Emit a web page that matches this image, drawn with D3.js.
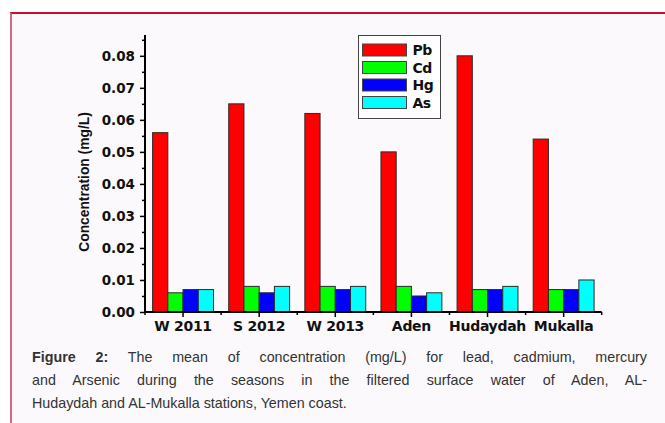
<!DOCTYPE html>
<html>
<head>
<meta charset="utf-8">
<script src="https://cdn.jsdelivr.net/npm/d3@7"></script>
<style>
  body { margin: 0; background: #fff; width: 665px; height: 423px; overflow: hidden; position: relative; }
  #frame {
    position: absolute; left: 10px; top: 12px; width: 700px; height: 460px;
    border-top: 2px solid #c8102e; border-left: 2px solid #d0668a;
    background: #fbf9fb;
  }
  #chart { position: absolute; left: 0; top: 0; }
  .cap {
    position: absolute; left: 32px; width: 615px;
    font-family: "Liberation Sans", Arial, sans-serif; font-size: 14.3px; color: #333;
    white-space: nowrap;
  }
  .cap.just { white-space: normal; text-align: justify; text-align-last: justify; }
</style>
</head>
<body>
<div id="frame"></div>
<svg id="chart" width="665" height="423"></svg>
<div class="cap just" style="top:349px"><b>Figure 2:</b> The mean of concentration (mg/L) for lead, cadmium, mercury</div>
<div class="cap just" style="top:372px">and Arsenic during the seasons in the filtered surface water of Aden, AL-</div>
<div class="cap" style="top:395px">Hudaydah and AL-Mukalla stations, Yemen coast.</div>
<script>
var categories = ["W 2011", "S 2012", "W 2013", "Aden", "Hudaydah", "Mukalla"];
var seriesNames = ["Pb", "Cd", "Hg", "As"];
var pbValues = [0.056, 0.065, 0.062, 0.050, 0.080, 0.054];
var cdValues = [0.006, 0.008, 0.008, 0.008, 0.007, 0.007];
var hgValues = [0.007, 0.006, 0.007, 0.005, 0.007, 0.007];
var asValues = [0.007, 0.008, 0.008, 0.006, 0.008, 0.010];
var yTickValues = [0, 0.01, 0.02, 0.03, 0.04, 0.05, 0.06, 0.07, 0.08];
var yMinorValues = [0.005, 0.015, 0.025, 0.035, 0.045, 0.055, 0.065, 0.075, 0.085];

var colors = ["#ff0000", "#00ff00", "#0000ff", "#00ffff"];
var allValues = [pbValues, cdValues, hgValues, asValues];

var svg = d3.select("#chart");
var plotLeft = 145, plotRight = 601.7, plotTop = 35, plotBottom = 312;
var boldFont = "'DejaVu Sans', sans-serif";

var x0 = d3.scaleBand().domain(categories).range([plotLeft, plotRight]);
var bw = x0.bandwidth();
var x1 = d3.scaleBand().domain(seriesNames).range([bw * 0.1, bw * 0.9]);
var y = d3.scaleLinear().domain([0, 0.0865]).range([plotBottom, plotTop]);
var color = d3.scaleOrdinal().domain(seriesNames).range(colors);

// bars
var rows = [];
categories.forEach(function(c, i) {
    seriesNames.forEach(function(s, j) {
        rows.push({cat: c, name: s, value: allValues[j][i]});
    });
});

svg.append("g").selectAll("rect")
    .data(rows)
    .join("rect")
    .attr("x", d => x0(d.cat) + x1(d.name))
    .attr("y", d => y(d.value))
    .attr("width", x1.bandwidth())
    .attr("height", d => plotBottom - y(d.value))
    .attr("fill", d => color(d.name))
    .attr("stroke", "#2a2a2a")
    .attr("stroke-width", 1);

// y axis
var yAxis = svg.append("g")
    .attr("transform", `translate(${plotLeft},0)`)
    .call(d3.axisLeft(y).tickValues(yTickValues).tickFormat(d3.format(".2f")).tickSize(5).tickPadding(5));
yAxis.select(".domain").attr("d", `M0,${plotBottom}V${plotTop}`).attr("stroke-width", 2);
yAxis.selectAll("text")
    .style("font-family", boldFont).style("font-weight", "bold").style("font-size", "13.5px").attr("fill", "#111");
yAxis.selectAll("line").attr("stroke-width", 1.5);

var yMinor = svg.append("g")
    .attr("transform", `translate(${plotLeft},0)`)
    .call(d3.axisLeft(y).tickValues(yMinorValues).tickFormat("").tickSize(3));
yMinor.select(".domain").remove();
yMinor.selectAll("line").attr("stroke-width", 1.5);

// x axis
var xAxis = svg.append("g")
    .attr("transform", `translate(0,${plotBottom})`)
    .call(d3.axisBottom(x0).tickSize(5).tickPadding(3).tickSizeOuter(0));
xAxis.select(".domain").attr("d", `M${plotLeft},0H${plotRight}`).attr("stroke-width", 2);
xAxis.selectAll("line").attr("stroke-width", 1.5);
xAxis.selectAll("text")
    .style("font-family", boldFont).style("font-weight", "bold").style("font-size", "14px")
    .attr("fill", "#111").attr("dy", "0.75em").attr("letter-spacing", "-0.3");

svg.append("g").selectAll("line")
    .data(categories.concat(["end"]))
    .join("line")
    .attr("x1", (d, i) => plotLeft + i * bw)
    .attr("x2", (d, i) => plotLeft + i * bw)
    .attr("y1", plotBottom)
    .attr("y2", plotBottom + 3)
    .attr("stroke", "#000")
    .attr("stroke-width", 1.5);

// y label
svg.append("text")
    .attr("transform", "translate(89,182) rotate(-90) scale(0.92,1)")
    .attr("text-anchor", "middle")
    .style("font-family", "'Liberation Sans', Arial, sans-serif")
    .style("font-weight", "bold")
    .style("font-size", "15px")
    .attr("fill", "#111")
    .text("Concentration (mg/L)");

// legend
var legend = svg.append("g");
legend.append("rect")
    .attr("x", 358.5).attr("y", 35.5).attr("width", 82).attr("height", 83)
    .attr("fill", "#fff").attr("stroke", "#444").attr("stroke-width", 1);
var items = legend.selectAll("g.item")
    .data(seriesNames)
    .join("g")
    .attr("class", "item")
    .attr("transform", (d, i) => `translate(362.5,${44 + i * 17.5})`);
items.append("rect")
    .attr("width", 44).attr("height", 12)
    .attr("fill", d => color(d))
    .attr("stroke", "#444").attr("stroke-width", 1);
items.append("text")
    .attr("x", 50).attr("y", 11)
    .style("font-family", boldFont).style("font-weight", "bold").style("font-size", "14px")
    .attr("letter-spacing", "-0.5")
    .attr("fill", "#111")
    .text(d => d);
</script>
</body>
</html>
